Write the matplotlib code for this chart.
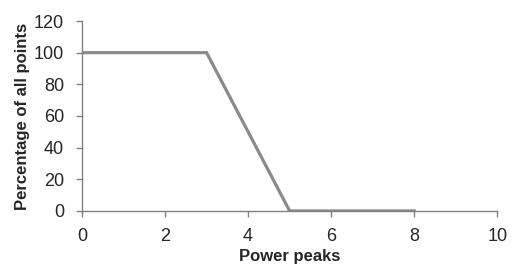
import matplotlib
matplotlib.use("Agg")
import matplotlib.pyplot as plt

x_vals = [0, 3, 5, 8]
y_vals = [100, 100, 0, 0]
x_ticks = [0, 2, 4, 6, 8, 10]
y_ticks = [0, 20, 40, 60, 80, 100, 120]

plt.rcParams['font.family'] = ['Liberation Sans', 'DejaVu Sans']
fig = plt.figure(figsize=(5.14, 2.66), dpi=100)
ax = fig.add_axes([0.1595, 0.207, 0.808, 0.714])
ax.plot(x_vals, y_vals, color='#8a8a8a', linewidth=2.3, solid_joinstyle='miter')
ax.set_xlim(0, 10)
ax.set_ylim(0, 120)
ax.set_xticks(x_ticks)
ax.set_yticks(y_ticks)
for s in ['top', 'right']:
    ax.spines[s].set_visible(False)
for s in ['left', 'bottom']:
    ax.spines[s].set_color('#808080')
    ax.spines[s].set_linewidth(1.0)
ax.tick_params(colors='#808080', labelcolor='#262626', labelsize=13, length=4, width=1.0, direction='out')
ax.tick_params(axis='x', pad=8)
ax.tick_params(axis='y', pad=9)
ax.set_xlabel('Power peaks', fontsize=12, fontweight='bold', color='#262626', labelpad=3)
ax.set_ylabel('Percentage of all points', fontsize=12, fontweight='bold', color='#262626', labelpad=3)
fig.savefig('out.png', dpi=100)
